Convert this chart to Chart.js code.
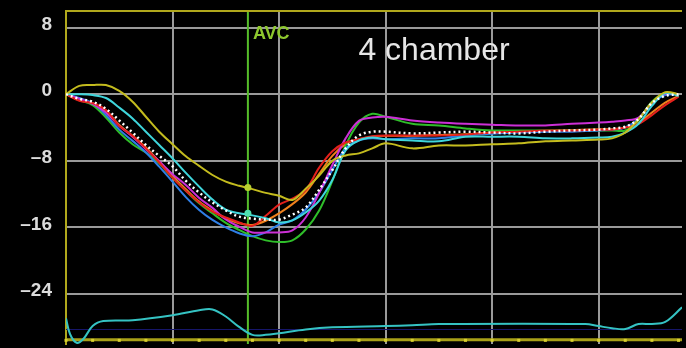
<!DOCTYPE html>
<html>
<head>
<meta charset="utf-8">
<script src="https://cdn.jsdelivr.net/npm/chart.js@4/dist/chart.umd.min.js"></script>
<style>
html,body{margin:0;padding:0;background:#000;}
#wrap{width:686px;height:348px;position:relative;}
</style>
</head>
<body>
<div id="wrap"><canvas id="c"></canvas></div>
<script>
// ---- data (x in frame units, y in strain %) ----
const xs = [0,0.5,1,1.5,2,2.5,3,3.5,4,4.5,5,5.5,6,6.5,7,7.5,8,8.5,9,9.5,10,10.5,11,11.5,12,
            13,14,15,16,17,18,19,20,
            20.5,21,21.5,22,22.5,23];
const yellowVals = [0,1.0,1.1,1.1,0.4,-0.9,-2.7,-4.5,-6.0,-7.45,-8.6,-9.7,-10.5,-11.0,-11.4,-11.85,-12.2,-12.7,-11.35,-9.8,-8.0,-7.35,-7.1,-6.5,-5.9,
                    -6.5,-6.15,-6.15,-6.0,-5.9,-5.65,-5.55,-5.45,
                    -5.3,-4.6,-3.0,-1.0,0.25,0];
const cyanVals = [0,0,-0.1,-0.45,-1.6,-2.9,-4.5,-6.1,-7.7,-9.45,-11.1,-12.65,-13.85,-14.3,-14.55,-14.9,-15.4,-15.15,-14.2,-12.8,-10.3,-6.75,-5.55,-5.2,-5.4,
                  -5.55,-5.65,-5.1,-5.1,-5.1,-5.3,-5.3,-5.2,
                  -5.1,-4.6,-3.55,-1.4,0.15,-0.2];
const averageVals = [0,-0.55,-0.9,-1.75,-3.15,-4.6,-6.1,-7.4,-8.65,-10.4,-11.8,-13.0,-13.95,-14.7,-14.95,-15.05,-15.05,-14.45,-13.6,-11.5,-9.1,-6.5,-4.95,-4.5,-4.5,
                     -4.7,-4.6,-4.5,-4.6,-4.7,-4.5,-4.35,-4.25,
                     -4.1,-3.9,-2.95,-1.05,-0.2,0];
const redVals = [0,-0.8,-1.05,-1.9,-3.8,-5.0,-6.5,-8.2,-10.05,-11.6,-13.0,-14.1,-14.8,-15.4,-15.8,-14.6,-13.25,-12.55,-11.5,-8.85,-6.85,-5.8,-5.4,-5.05,-4.95,
                 -4.95,-4.95,-4.85,-4.6,-4.5,-4.35,-4.35,-4.25,
                 -4.25,-4.0,-3.55,-2.5,-1.3,-0.3];
const magentaVals = [0,-0.55,-1.15,-2.2,-3.8,-5.1,-6.6,-8.05,-9.6,-10.9,-12.45,-13.65,-15.05,-15.9,-16.6,-16.6,-16.6,-16.35,-14.8,-11.9,-8.5,-5.3,-3.2,-2.8,-2.7,
                     -3.15,-3.4,-3.55,-3.65,-3.75,-3.75,-3.55,-3.4,
                     -3.3,-3.15,-2.8,-1.05,0.05,0];
const greenVals = [0,-0.7,-1.3,-2.8,-4.6,-6.0,-7.0,-8.3,-10.05,-11.6,-13.1,-14.3,-15.45,-16.3,-17.05,-17.55,-17.75,-17.55,-16.25,-14.0,-10.4,-6.15,-3.4,-2.35,-2.7,
                   -3.55,-3.75,-4.1,-4.35,-4.35,-4.35,-4.35,-4.35,
                   -4.35,-4.35,-3.1,-0.9,0.05,0];
const blueVals = [0,-0.45,-1.05,-2.5,-4.25,-5.6,-7.0,-8.7,-10.5,-12.35,-13.9,-15.1,-16.0,-16.7,-17.05,-16.6,-15.65,-15.15,-13.85,-11.85,-9.1,-6.5,-5.55,-5.3,-5.4,
                  -5.3,-5.3,-4.95,-4.75,-4.6,-4.5,-4.5,-4.35,
                  -4.25,-4.0,-2.95,-1.05,-0.1,0];
const orangeVals = [0,-0.7,-1.1,-2.0,-3.7,-5.0,-6.4,-8.1,-9.8,-11.4,-12.9,-14.0,-14.9,-15.5,-15.7,-15.2,-14.3,-13.2,-11.8,-9.6,-7.4,-6.0,-5.4,-5.1,-5.0,
                    -5.0,-4.9,-4.8,-4.6,-4.5,-4.4,-4.3,-4.2,
                    -4.2,-4.0,-3.4,-2.2,-1.0,-0.2];
const ecgX = [0,0.15,0.4,0.65,1,1.4,2.5,4,5,5.5,6,6.5,7,7.5,8,9,10,12,13,14,19.5,20,20.5,21,21.5,22,22.5,23.13];
const ecgVals = [-26.9,-28.8,-29.85,-29.4,-27.85,-27.25,-27.15,-26.55,-25.95,-25.85,-26.7,-27.95,-28.9,-28.9,-28.7,-28.25,-28.0,-27.85,-27.75,-27.6,-27.6,-27.85,-28.1,-28.2,-27.6,-27.6,-27.35,-25.6];
const avcX = 6.83;
const avcMarkVals = [-11.2, -14.3];
const yTicks = [-24,-16,-8,0,8];
const xGrid = [4,8,12,16,20];
const xMax = 23.13, yMin = -30, yMax = 10;
const bottomAxisVal = -29.5;
const baseLineVal = -28.2;
const titleText = '4 chamber';
const avcText = 'AVC';

const pts = (xa, ya) => ya.map((v,i)=>({x:xa[i], y:v}));

function line(label, vals, color, extra){
  return Object.assign({label, data: pts(xs, vals), borderColor: color, borderWidth: 2,
    pointRadius: 0, tension: 0.35, fill:false}, extra||{});
}

const overlay = {
  id:'overlay',
  beforeDraw(chart){
    const ctx = chart.ctx;
    ctx.save(); ctx.fillStyle='#000'; ctx.fillRect(0,0,chart.width,chart.height); ctx.restore();
  },
  beforeDatasetsDraw(chart){
    const {ctx, chartArea:a, scales:{x,y}} = chart;
    ctx.save();
    const nb = y.getPixelForValue(baseLineVal);
    ctx.strokeStyle='#16166a'; ctx.lineWidth=1;
    ctx.beginPath(); ctx.moveTo(a.left, nb+0.5); ctx.lineTo(a.right, nb+0.5); ctx.stroke();
    const ax = x.getPixelForValue(avcX);
    ctx.strokeStyle='#56bd2a'; ctx.lineWidth=2;
    ctx.beginPath(); ctx.moveTo(ax, a.top); ctx.lineTo(ax, a.bottom); ctx.stroke();
    const by = y.getPixelForValue(bottomAxisVal);
    ctx.strokeStyle='#a8a018'; ctx.lineWidth=3;
    ctx.beginPath(); ctx.moveTo(a.left, by); ctx.lineTo(a.right, by); ctx.stroke();
    ctx.fillStyle='#d8d030';
    for(let t=0;t<=Math.floor(xMax);t++){
      const tx = x.getPixelForValue(t);
      ctx.fillRect(tx-1.5, by-1, 3, 3);
    }
    ctx.restore();
  },
  afterDraw(chart){
    const {ctx, chartArea:a, scales:{x,y}} = chart;
    ctx.save();
    ctx.strokeStyle='#b0a81c'; ctx.lineWidth=2;
    ctx.beginPath(); ctx.moveTo(a.left, a.top); ctx.lineTo(a.right, a.top); ctx.stroke();
    const ax = x.getPixelForValue(avcX);
    ctx.fillStyle='#8ec82e';
    ctx.font='bold 18px "Liberation Sans", Arial, sans-serif';
    ctx.textBaseline='alphabetic'; ctx.textAlign='left';
    ctx.fillText(avcText, ax+5, a.top+28);
    ctx.fillStyle='#e6e6e6';
    ctx.font='32px "Liberation Sans", Arial, sans-serif';
    ctx.fillText(titleText, x.getPixelForValue(10.98), a.top+49);
    ctx.restore();
  }
};

const datasets = [
  line('average', averageVals, '#ffffff', {borderDash:[2,3], borderWidth:2.5}),
  {label:'AVC marks', data: avcMarkVals.map(v=>({x:avcX,y:v})), showLine:false,
   pointRadius:3.5, pointBackgroundColor:['#b8d030','#50e0b0'], pointBorderWidth:0},
  line('yellow', yellowVals, '#c4bc1e'),
  line('cyan', cyanVals, '#3fd6dc'),
  line('red', redVals, '#e4201c'),
  line('magenta', magentaVals, '#cc2fd6'),
  line('blue', blueVals, '#2f7fe6'),
  line('green', greenVals, '#2fbe2a'),
  line('orange', orangeVals, '#f0801c'),
  {label:'ecg', data: pts(ecgX, ecgVals), borderColor:'#35c3c3', borderWidth:2, pointRadius:0, tension:0.35, fill:false}
];

new Chart(document.getElementById('c'), {
  type:'line',
  data:{datasets},
  options:{
    responsive:true, maintainAspectRatio:false, animation:false,
    layout:{padding:{top:11,right:0,bottom:0,left:0}},
    plugins:{legend:{display:false}, tooltip:{enabled:false}},
    scales:{
      x:{type:'linear', min:0, max:xMax,
         afterBuildTicks(s){ s.ticks = xGrid.map(v=>({value:v})); },
         afterFit(s){ s.height = 0; s.paddingLeft=0; s.paddingRight=0; },
         ticks:{display:false},
         grid:{color:'#9a9a9a', lineWidth:2, drawTicks:false},
         border:{display:false}},
      y:{type:'linear', min:yMin, max:yMax,
         afterBuildTicks(s){ s.ticks = yTicks.map(v=>({value:v})); },
         afterFit(s){ s.width = 66; s.paddingTop=0; s.paddingBottom=0; },
         ticks:{color:'#dcdcdc', padding:14, labelOffset:-3,
                font:{family:'"Liberation Sans", Arial, sans-serif', size:19, weight:'bold'},
                callback:(v)=>String(v).replace('-', '\u2013')},
         grid:{color:'#9a9a9a', lineWidth:2, drawTicks:false},
         border:{display:true, color:'#b0a81c', width:2}}
    }
  },
  plugins:[overlay]
});
</script>
</body>
</html>
